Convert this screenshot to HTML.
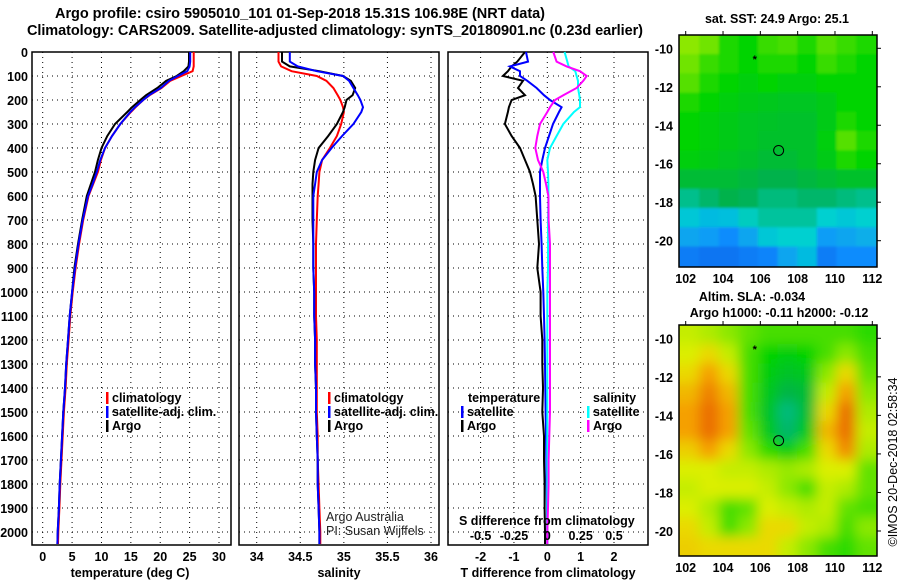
<!DOCTYPE html>
<html><head><meta charset="utf-8"><style>
body{margin:0;background:#fff}
svg{display:block;font-family:"Liberation Sans",sans-serif}
.b{font-weight:bold;font-size:12.5px}
</style></head><body>
<svg id="chart" width="900" height="580" viewBox="0 0 900 580">
<text x="300" y="18" text-anchor="middle" font-weight="bold" font-size="14.5" textLength="490">Argo profile: csiro 5905010_101 01-Sep-2018 15.31S 106.98E (NRT data)</text>
<text x="335" y="35" text-anchor="middle" font-weight="bold" font-size="14.5" textLength="616">Climatology: CARS2009. Satellite-adjusted climatology: synTS_20180901.nc (0.23d earlier)</text>
<g id="g"></g>
</svg>
<script>
// depths (m)
const depths=[0,40,60,80,100,120,150,180,200,230,250,300,350,400,450,500,550,600,700,800,900,1000,1100,1200,1300,1400,1500,1600,1700,1800,1900,2000,2050];
const tempArgo=[24.9,24.9,24.8,24.0,22.8,21.0,19.5,17.6,16.6,15.2,14.4,12.3,11.0,10.0,9.4,8.9,8.2,7.5,6.7,6.0,5.4,5.0,4.6,4.3,4.0,3.8,3.5,3.3,3.1,2.9,2.75,2.55,2.5];
const tempClim=[25.7,25.7,25.7,25.5,23.6,21.7,20.2,18.2,17.1,15.8,15.0,13.2,11.8,10.6,9.9,9.4,8.6,7.8,6.9,6.2,5.6,5.1,4.7,4.4,4.1,3.9,3.6,3.4,3.2,3.0,2.85,2.65,2.6];
const tempSat=[25.1,25.1,25.0,24.6,23.0,21.5,20.1,18.1,17.1,15.7,14.9,13.2,11.8,10.6,9.8,9.2,8.5,7.7,6.8,6.1,5.5,5.0,4.6,4.3,4.0,3.8,3.5,3.3,3.1,2.9,2.75,2.55,2.5];
const salArgo=[34.29,34.29,34.38,34.72,34.99,35.08,35.13,35.10,35.03,35.01,34.99,34.92,34.82,34.71,34.67,34.65,34.64,34.64,34.64,34.65,34.65,34.66,34.66,34.67,34.67,34.68,34.68,34.69,34.70,34.70,34.71,34.72,34.72];
const salClim=[34.25,34.25,34.28,34.40,34.69,34.80,34.88,34.93,34.96,34.99,35.00,34.97,34.92,34.84,34.75,34.72,34.71,34.70,34.69,34.68,34.68,34.68,34.68,34.69,34.69,34.69,34.69,34.70,34.70,34.71,34.72,34.73,34.73];
const salSat=[34.38,34.38,34.47,34.69,34.99,35.06,35.11,35.16,35.19,35.22,35.20,35.11,34.98,34.86,34.75,34.69,34.67,34.65,34.65,34.65,34.65,34.66,34.66,34.67,34.67,34.68,34.68,34.69,34.70,34.70,34.71,34.72,34.72];
const dTArgo=[-0.67,-0.9,-1.07,-1.18,-1.33,-0.73,-0.88,-0.67,-1.07,-1.15,-1.18,-1.27,-1.07,-0.82,-0.67,-0.52,-0.43,-0.35,-0.3,-0.25,-0.3,-0.2,-0.2,-0.15,-0.15,-0.13,-0.15,-0.1,-0.1,-0.08,-0.08,-0.07,-0.07];
const dTSat=[-0.64,-0.58,-1.12,-0.82,-0.82,-0.6,-0.32,-0.1,0.08,0.43,0.35,0.17,0.05,-0.07,-0.15,-0.22,-0.22,-0.22,-0.2,-0.17,-0.15,-0.12,-0.1,-0.08,-0.07,-0.06,-0.05,-0.04,-0.03,-0.02,-0.01,0,0];
const dSArgo=[0.045,0.07,0.145,0.245,0.295,0.27,0.22,0.12,0.058,0.02,0,-0.055,-0.075,-0.09,-0.07,-0.03,-0.01,0.008,0.01,0.02,0.02,0.02,0.02,0.02,0.02,0.02,0.02,0.015,0.01,0.01,0.005,0,0];
const dSSat=[0.13,0.15,0.16,0.21,0.22,0.23,0.23,0.24,0.245,0.245,0.2,0.12,0.07,0.02,0,0.005,0.008,0.008,0.005,0.005,0.005,0,0,0,0,0,0,0,0,0,0,0,0];
const depthTicks=[0,100,200,300,400,500,600,700,800,900,1000,1100,1200,1300,1400,1500,1600,1700,1800,1900,2000];
const tTicks=[0,5,10,15,20,25,30];
const sTicks=[34,34.5,35,35.5,36];
const sTickLabels=["34","34.5","35","35.5","36"];
const dtTicks=[-2,-1,0,1,2];
const dsTicks=[-0.5,-0.25,0,0.25,0.5];
const dsTickLabels=["-0.5","-0.25","0","0.25","0.5"];
const lonTicks=[102,104,106,108,110,112];
const latTicks=[-10,-12,-14,-16,-18,-20];
const sstGrid=[
[.8,.78,.72,.7,.74,.75,.72,.76,.74,.72],
[.78,.74,.72,.7,.72,.72,.7,.74,.72,.7],
[.76,.72,.7,.68,.7,.68,.68,.7,.7,.7],
[.72,.7,.68,.66,.65,.64,.64,.66,.7,.7],
[.7,.68,.66,.64,.63,.62,.62,.66,.72,.7],
[.7,.68,.66,.64,.62,.62,.62,.68,.76,.72],
[.68,.66,.64,.62,.6,.6,.62,.66,.72,.7],
[.6,.6,.6,.58,.56,.56,.58,.6,.62,.62],
[.48,.52,.56,.54,.5,.5,.52,.52,.5,.48],
[.38,.35,.36,.42,.46,.46,.46,.4,.38,.4],
[.3,.28,.24,.3,.38,.4,.4,.28,.3,.32],
[.2,.18,.18,.2,.22,.3,.35,.2,.24,.24]];
const slaGrid=[
[.8,.78,.75,.72,.7,.7,.7,.7,.7,.68],
[.82,.85,.8,.7,.65,.62,.65,.7,.75,.7],
[.85,.9,.85,.7,.62,.58,.6,.75,.85,.72],
[.88,.93,.88,.7,.6,.52,.55,.8,.9,.75],
[.9,.96,.9,.7,.58,.45,.55,.85,.95,.78],
[.9,.97,.9,.72,.6,.47,.6,.88,.98,.8],
[.86,.9,.85,.75,.68,.62,.7,.85,.92,.78],
[.82,.82,.8,.8,.78,.76,.78,.82,.82,.72],
[.8,.82,.82,.82,.8,.75,.7,.8,.78,.72],
[.82,.78,.7,.72,.82,.8,.78,.8,.72,.7],
[.85,.8,.7,.75,.85,.85,.8,.78,.7,.75],
[.86,.85,.85,.85,.85,.8,.75,.7,.68,.72]];
const mapLons=[102.2,103.25,104.3,105.35,106.4,107.45,108.5,109.55,110.6,111.65];
const mapLats=[-9.8,-10.8,-11.8,-12.8,-13.8,-14.8,-15.8,-16.8,-17.8,-18.8,-19.8,-20.8];
const argoLon=106.98, argoLat=-15.31;

const NS='http://www.w3.org/2000/svg';
const G=document.getElementById('g');
function el(tag,attrs,parent){const e=document.createElementNS(NS,tag);for(const k in attrs)e.setAttribute(k,attrs[k]);(parent||G).appendChild(e);return e;}
function txt(x,y,s,cls,anchor,parent){const t=el('text',{x:x,y:y,'text-anchor':anchor||'start'},parent);if(cls)t.setAttribute('class',cls);t.textContent=s;return t;}
const Y0=52,Y1=545;
const yD=d=>Y0+d*0.24;
function lin(d0,d1,r0,r1){return v=>r0+(v-d0)*(r1-r0)/(d1-d0);}
const xT=lin(0,30,42.7,219);
const xS=lin(34,36,256.7,431);
const xDT=lin(0,2,547.3,614);
const xDS=lin(0,0.5,547.3,614);

function panel(x0,x1,name,vx){
  const g=el('g',{});
  
  
  depthTicks.forEach(d=>{if(d>0)el('line',{x1:x0,x2:x1,y1:yD(d),y2:yD(d),stroke:'#000','stroke-width':1,'stroke-dasharray':'1 4'},g);});
  vx.forEach(x=>el('line',{x1:x,x2:x,y1:Y0,y2:Y1,stroke:'#000','stroke-width':1,'stroke-dasharray':'1 4'},g));
  el('rect',{x:x0,y:Y0,width:x1-x0,height:Y1-Y0,fill:'none',stroke:'#000','stroke-width':1.5},g);
  return g;
}
function line(xs,fx,color,name,g,w){
  const p=el('polyline',{points:xs.map((v,i)=>fx(v).toFixed(1)+','+yD(depths[i]).toFixed(1)).join(' '),fill:'none',stroke:color,'stroke-width':w||2},g);
  
  
}
const p1=panel(32,231,'temperature-panel',tTicks.map(xT));
line(tempClim,xT,'#f00','temperature-climatology-line',p1);
line(tempArgo,xT,'#000','temperature-argo-line',p1);
line(tempSat,xT,'#00f','temperature-satellite-line',p1);
depthTicks.forEach(d=>{const t=txt(28,yD(d)+5,String(d),'b','end');});
tTicks.forEach(v=>{const t=txt(xT(v),561,String(v),'b','middle');});
let t=txt(130,577,'temperature (deg C)','b','middle');

const p2=panel(239,439,'salinity-panel',sTicks.map(xS));
line(salClim,xS,'#f00','salinity-climatology-line',p2);
line(salArgo,xS,'#000','salinity-argo-line',p2);
line(salSat,xS,'#00f','salinity-satellite-line',p2);
sTicks.forEach((v,i)=>{const t=txt(xS(v),561,sTickLabels[i],'b','middle');});
t=txt(339,577,'salinity','b','middle');

t=txt(326,521,'Argo Australia',null,'start');t.setAttribute('font-size','12.5');t.setAttribute('fill','#222');

t=txt(326,535,'PI: Susan Wijffels',null,'start');t.setAttribute('font-size','12.5');t.setAttribute('fill','#222');

const p3=panel(448,648,'difference-panel',dtTicks.map(xDT));
line(dTArgo,xDT,'#000','t-diff-argo-line',p3);
line(dTSat,xDT,'#00f','t-diff-satellite-line',p3);
line(dSSat,xDS,'#0ff','s-diff-satellite-line',p3);
line(dSArgo,xDS,'#f0f','s-diff-argo-line',p3);
dtTicks.forEach(v=>{const t=txt(xDT(v),561,String(v),'b','middle');});
dsTicks.forEach((v,i)=>{const t=txt(xDS(v),540,dsTickLabels[i],'b','middle');});
t=txt(459,525,'S difference from climatology','b','start');

t=txt(548,577,'T difference from climatology','b','middle');

function leg(x,y,color,label){
  const g=el('g',{});
  
  
  el('rect',{x:x,y:y-10,width:2.5,height:12,fill:color},g);
  if(label)txt(x+6,y,label,'b','start',g);
}
leg(106,402,'#f00','climatology');leg(106,416,'#00f','satellite-adj. clim.');leg(106,430,'#000','Argo');
leg(328,402,'#f00','climatology');leg(328,416,'#00f','satellite-adj. clim.');leg(328,430,'#000','Argo');
t=txt(468,402,'temperature','b','start');
leg(461,416,'#00f','satellite');leg(461,430,'#000','Argo');
t=txt(593,402,'salinity','b','start');
leg(587,416,'#0ff','satellite');leg(587,430,'#f0f','Argo');

const stops=[[0,[0,48,210]],[0.25,[16,144,255]],[0.4,[0,208,208]],[0.55,[0,176,80]],[0.7,[0,212,0]],[0.8,[140,232,0]],[0.88,[230,240,0]],[0.95,[245,160,0]],[1,[235,110,0]]];
function cmap(v){v=Math.min(1,v);for(let i=1;i<stops.length;i++){if(v<=stops[i][0]){const a=stops[i-1],b=stops[i],f=(v-a[0])/(b[0]-a[0]);return 'rgb('+a[1].map((c,k)=>Math.round(c+(b[1][k]-c)*f)).join(',')+')';}}return 'rgb(235,110,0)';}
function drawMap(name,grid,top,bot,lat10y,lat20y,blur,id,shift){
  const L=679,R=877;
  const xL=lin(102,112,685.7,872.3), yL=lin(-10,-20,lat10y,lat20y);
  const g=el('g',{});
  
  
  const defs=el('defs',{},g);
  const cp=el('clipPath',{id:'c'+id},defs);
  el('rect',{x:L,y:top,width:R-L,height:bot-top},cp);
  const f=el('filter',{id:'f'+id,x:'-10%',y:'-10%',width:'120%',height:'120%'},defs);
  el('feGaussianBlur',{stdDeviation:blur},f);
  const inner=el('g',{'clip-path':'url(#c'+id+')'},g);
  const cells=el('g',{filter:'url(#f'+id+')'},inner);
  const dx=(xL(1)-xL(0))*1.05, dy=(yL(-1)-yL(0));
  grid.forEach((row,r)=>row.forEach((v,c)=>{
    const cx=xL(mapLons[c]),cy=yL(mapLats[r]);
    const rc=el('rect',{x:(cx-dx/2-(c==0?20:0)).toFixed(1),y:(cy-dy/2-(r==0?20:0)).toFixed(1),width:(dx+1+(c==0||c==9?20:0)).toFixed(1),height:(dy+1+(r==0||r==11?20:0)).toFixed(1),fill:cmap(v+shift)},cells);
    
    
  }));
  el('rect',{x:L,y:top,width:R-L,height:bot-top,fill:'none',stroke:'#000','stroke-width':1.5},g);
  lonTicks.forEach(v=>{el('line',{x1:xL(v),x2:xL(v),y1:top,y2:top-4,stroke:'#000'},g);
    const t=txt(xL(v),bot+16,String(v),'b','middle',g);t.setAttribute('font-size','13');});
  latTicks.forEach(v=>{el('line',{x1:R,x2:R+4,y1:yL(v),y2:yL(v),stroke:'#000'},g);
    const t=txt(673,yL(v)+5,String(v),'b','end',g);t.setAttribute('font-size','13');});
  const c=el('circle',{cx:xL(argoLon),cy:yL(argoLat),r:5,fill:'none',stroke:'#000','stroke-width':1},g);
  
  const s=txt(xL(105.7),yL(-10.5)+5,'*',null,'middle',g);s.setAttribute('font-size','11');s.setAttribute('font-weight','bold');
}
drawMap('sst-map',sstGrid,35,267,48.3,240.7,1.2,1,0);
drawMap('sla-map',slaGrid,325,556,338.3,531,6,2,0.05);
t=txt(777,23,'sat. SST: 24.9 Argo: 25.1','b','middle');
t=txt(752,301,'Altim. SLA: -0.034','b','middle');
t=txt(779,317,'Argo h1000: -0.11 h2000: -0.12','b','middle');
t=txt(0,0,'©IMOS 20-Dec-2018 02:58:34',null,'middle');
t.setAttribute('transform','translate(897,462) rotate(-90)');t.setAttribute('font-size','12.5');

</script>
</body></html>
